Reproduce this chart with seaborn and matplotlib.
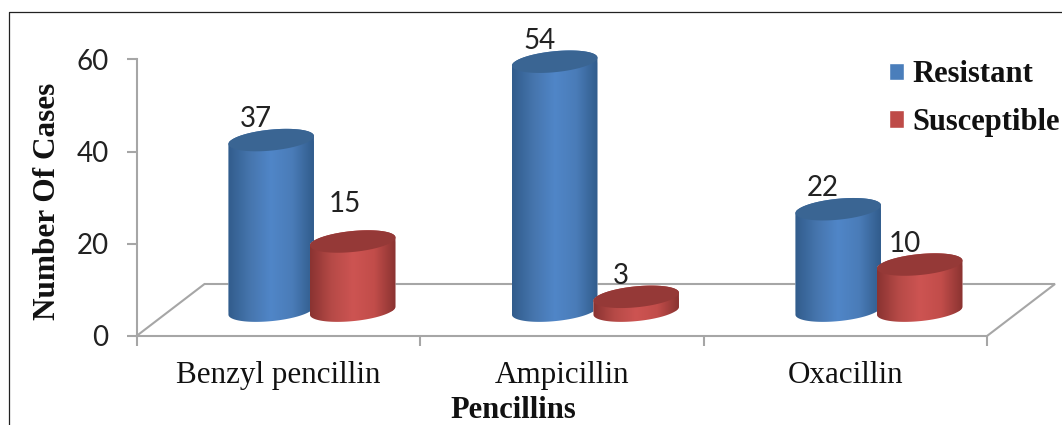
import numpy as np
import pandas as pd
import matplotlib.pyplot as plt
from matplotlib.colors import LinearSegmentedColormap
from matplotlib.lines import Line2D
from matplotlib.patches import Polygon
from matplotlib.path import Path
import seaborn as sns

drugs = ["Benzyl pencillin", "Ampicillin", "Oxacillin"]
resistant = [37, 54, 22]
susceptible = [15, 3, 10]
y_ticks = [0, 20, 40, 60]

W, H = 1062, 425
LEFT, RIGHT, ZERO = 136.5, 987.0, 336.0
PX_Y = 4.61                          # pixels per case on the y axis
PX_X = (RIGHT - LEFT) / 3            # pixels per category
YMAX = 70
GREY = "#a6a6a6"
SERIF = "Liberation Serif"

BASE = 5.5                           # bars stand inside the floor, not on the axis
BAR_W = 85.5 / PX_X
SHIFT = 33.7 / PX_X                  # fake depth moves the bars right
ELL_B = 10.5 / PX_Y
ELL_S = 4.0 / PX_Y
BACK_X = 68 / PX_X
BACK_Y = 52 / PX_Y

blue_grad = LinearSegmentedColormap.from_list("b", ["#315c8c", "#4675ad", "#5086c8", "#4a7cb8", "#315c8c"])
red_grad = LinearSegmentedColormap.from_list("r", ["#8a3331", "#b64a47", "#cd5452", "#c24d4a", "#8a3331"])
tops = {"Resistant": "#3a6593", "Susceptible": "#953937"}
legend_cols = {"Resistant": "#4a7ebb", "Susceptible": "#be4b48"}

df = pd.DataFrame({
    "drug": drugs * 2,
    "cases": resistant + susceptible,
    "kind": ["Resistant"] * 3 + ["Susceptible"] * 3,
})

sns.set_theme(style="white")
plt.rcParams["font.family"] = ["Lato", "DejaVu Sans"]

fig = plt.figure(figsize=(W / 100, H / 100), dpi=100)
ax = fig.add_axes([LEFT / W, (H - ZERO) / H, (RIGHT - LEFT) / W, YMAX * PX_Y / H])

sns.barplot(data=df, x="drug", y="cases", hue="kind", palette=legend_cols, width=0.575,
            gap=0, ax=ax, saturation=1, zorder=3)
handles, labels = ax.get_legend_handles_labels()


def ellipse(cx, cy, a, t):
    return np.column_stack([cx + a * np.cos(t), cy + ELL_B * np.sin(t) + ELL_S * np.cos(t)])


grads = [blue_grad, red_grad]
z = 3
for grad, name, cont in zip(grads, ["Resistant", "Susceptible"], ax.containers):
    for bar in cont:
        cx = bar.get_x() + bar.get_width() / 2 + SHIFT
        bar.set_width(BAR_W)
        bar.set_x(cx - BAR_W / 2)
        bar.set_y(BASE)
        a = BAR_W / 2
        y0 = bar.get_y()
        y1 = y0 + bar.get_height()
        top_half = ellipse(cx, y1, a, np.linspace(0, np.pi, 60))
        low_half = ellipse(cx, y0, a, np.linspace(np.pi, 2 * np.pi, 60))
        body = Path(np.vstack([top_half, low_half, top_half[:1]]))
        bar.set_clip_path(body, ax.transData)
        bar.set_zorder(z)
        im = ax.imshow(np.linspace(0, 1, 128)[None, :], cmap=grad, aspect="auto", origin="lower",
                       extent=(cx - a, cx + a, y0 - 2 * ELL_B, y1 + 2 * ELL_B), zorder=z + 0.1)
        im.set_clip_path(body, ax.transData)
        ax.add_patch(Polygon(ellipse(cx, y1, a, np.linspace(0, 2 * np.pi, 120)), closed=True,
                             facecolor=tops[name], edgecolor="none", zorder=z + 0.2))
    z = z + 1

# data labels sit up and left of the lid, "15" was moved by hand in the original
nudge = {15: (-8, 29)}
for cont in ax.containers:
    for bar in cont:
        v = int(round(bar.get_height()))
        dx, dy = nudge.get(v, (-15, 13))
        ax.annotate(str(v), (bar.get_x() + bar.get_width() / 2, bar.get_y() + bar.get_height()),
                    xytext=(dx * 0.72, dy * 0.72), textcoords="offset points", ha="center", va="baseline",
                    fontsize=20, color="#222222", zorder=10)

# floor
ax.plot([-0.5, -0.5 + BACK_X, 2.5 + BACK_X, 2.5], [0, BACK_Y, BACK_Y, 0], color=GREY, lw=1.5,
        clip_on=False, zorder=1, solid_joinstyle="miter")

ax.set_xlim(-0.5, 2.5)
ax.set_ylim(0, YMAX)
sns.despine(ax=ax)
ax.spines["left"].set_bounds(0, 60)
for s in ["left", "bottom"]:
    ax.spines[s].set_color(GREY)
    ax.spines[s].set_linewidth(1.5)

ax.set_yticks(y_ticks)
ax.tick_params(axis="y", left=True, length=7.2, width=1.5, color=GREY, pad=13, labelsize=20, labelcolor="#222222")
ax.set_xticks([-0.5, 0.5, 1.5, 2.5], labels=[])
ax.set_xticks(range(3), labels=drugs, minor=True)
ax.tick_params(axis="x", which="major", bottom=True, length=7.2, width=1.5, color=GREY)
ax.tick_params(axis="x", which="minor", bottom=False, length=0, pad=18, labelsize=22.4, labelcolor="#111111")
for t in ax.get_xticklabels(minor=True):
    t.set_family(SERIF)

ax.set_xlabel("Pencillins", family=SERIF, weight="bold", fontsize=22, color="#111111")
ax.xaxis.set_label_coords((513 - LEFT) / (RIGHT - LEFT), (ZERO - 418) / (YMAX * PX_Y), transform=ax.transAxes)
ax.xaxis.label.set_verticalalignment("baseline")
ax.set_ylabel("Number Of Cases", family=SERIF, weight="bold", fontsize=22.5, color="#111111")
ax.yaxis.set_label_coords((48 - LEFT) / (RIGHT - LEFT), (ZERO - 201) / (YMAX * PX_Y), transform=ax.transAxes)
ax.yaxis.label.set_verticalalignment("center")

leg = ax.legend(handles, labels, loc="upper left", frameon=False, borderpad=0, borderaxespad=0,
                bbox_to_anchor=((889 - LEFT) / (RIGHT - LEFT), (ZERO - 60) / (YMAX * PX_Y)),
                prop={"family": SERIF, "weight": "bold", "size": 22}, handlelength=0.49, handleheight=0.49,
                handletextpad=0.27, labelspacing=0.62)
for t in leg.get_texts():
    t.set_color("#111111")

# picture frame, only top and left survive in the crop
fig.add_artist(Line2D([8.5 / W, 8.5 / W, 1], [0, (H - 12) / H, (H - 12) / H], color="#222222", lw=0.9))

fig.savefig("out.png", dpi=100)
